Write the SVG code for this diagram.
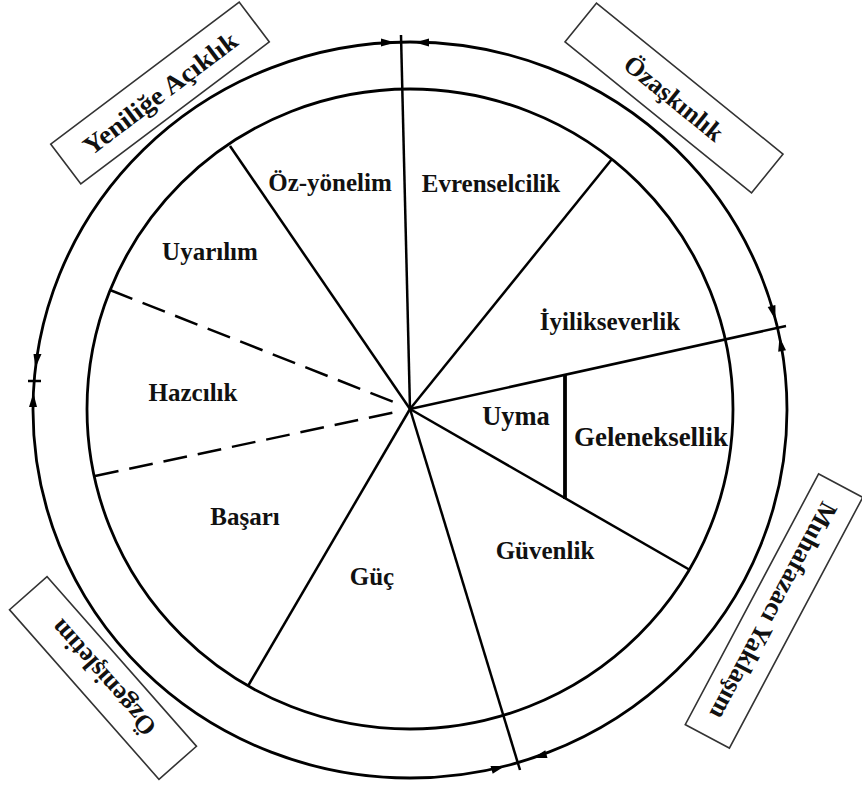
<svg xmlns="http://www.w3.org/2000/svg" width="862" height="787" viewBox="0 0 862 787">
<style>
.ring{fill:none;stroke:#000;stroke-width:2.8}
.spoke{stroke:#000;stroke-width:2.5;fill:none}
.dash{stroke-dasharray:24 11}
.lbl{font-family:"Liberation Serif","Times New Roman",serif;font-weight:bold;font-size:25px;fill:#111;text-anchor:middle}
.big{font-size:26.5px}
.blbl{font-family:"Liberation Serif","Times New Roman",serif;font-weight:bold;font-size:26px;fill:#111;text-anchor:middle}
.box{fill:#fff;stroke:#333;stroke-width:1.6}
.arr{fill:#000;stroke:none}
</style>
<rect width="862" height="787" fill="#fff"/>
<g id="rings">
<ellipse class="ring" cx="410" cy="410" rx="377" ry="368"/>
<ellipse class="ring" cx="410" cy="409" rx="323" ry="320"/>
</g>
<g id="connectors">
<line class="spoke" x1="410" y1="409" x2="401" y2="35"/>
<line class="spoke" x1="410" y1="409" x2="230" y2="146"/>
<line class="spoke dash" x1="110" y1="290" x2="396" y2="403"/>
<line class="spoke dash" x1="95" y1="476" x2="396" y2="412"/>
<line class="spoke" x1="410" y1="409" x2="248" y2="686"/>
<line class="spoke" x1="410" y1="409" x2="520" y2="770"/>
<line class="spoke" x1="410" y1="409" x2="690" y2="570"/>
<line class="spoke" x1="410" y1="409" x2="786" y2="326"/>
<line class="spoke" x1="410" y1="409" x2="612" y2="159"/>
<line class="spoke" x1="565" y1="375" x2="565" y2="499" style="stroke-width:3.8"/>
<line class="spoke" x1="28" y1="381" x2="41" y2="381"/>
<polygon class="arr" points="395,42.5 381,38.5 381,46.5"/>
<polygon class="arr" points="415,42.5 429,38.5 429,46.5"/>
<polygon class="arr" points="505,766 492.7,773.7 490.5,766.1"/>
<polygon class="arr" points="533,758 547.5,757.9 545.3,750.3"/>
<polygon class="arr" points="35.4,368 33.5,354 41.5,354"/>
<polygon class="arr" points="33.4,393 29,407 37,407"/>
<polygon class="arr" points="775.5,320 775.4,305 767.7,307.1"/>
<polygon class="arr" points="779.5,337 786,350.3 778.2,351.7"/>
</g>
<g id="oz-yonelim"><text class="lbl" x="330" y="191">Öz-yönelim</text></g>
<g id="evrenselcilik"><text class="lbl" x="491" y="192">Evrenselcilik</text></g>
<g id="uyarilim"><text class="lbl" x="210" y="260">Uyarılım</text></g>
<g id="iyilikseverlik"><text class="lbl" x="610" y="330">İyilikseverlik</text></g>
<g id="hazcilik"><text class="lbl" x="193" y="401">Hazcılık</text></g>
<g id="uyma"><text class="lbl big" x="516" y="425">Uyma</text></g>
<g id="geleneksellik"><text class="lbl big" x="651" y="446" textLength="154" lengthAdjust="spacingAndGlyphs">Geleneksellik</text></g>
<g id="basari"><text class="lbl" x="245" y="525">Başarı</text></g>
<g id="guvenlik"><text class="lbl" x="545" y="559">Güvenlik</text></g>
<g id="guc"><text class="lbl" x="372" y="585">Güç</text></g>
<g id="yenilige-aciklik" transform="translate(160,93) rotate(-37)">
<rect class="box" x="-118" y="-25" width="236" height="50"/>
<text class="blbl" x="0" y="9" textLength="186" lengthAdjust="spacingAndGlyphs">Yeniliğe Açıklık</text>
</g>
<g id="ozaskinlik" transform="translate(674,98) rotate(39)">
<rect class="box" x="-120" y="-25" width="240" height="50"/>
<text class="blbl" x="0" y="9">Özaşkınlık</text>
</g>
<g id="muhafazaci-yaklasim" transform="translate(774,611) rotate(118)">
<rect class="box" x="-142" y="-25" width="284" height="50"/>
<text class="blbl" x="0" y="9" textLength="242" lengthAdjust="spacingAndGlyphs">Muhafazacı Yaklaşım</text>
</g>
<g id="ozgenisletim" transform="translate(103,678) rotate(228.6)">
<rect class="box" x="-113" y="-25" width="226" height="50"/>
<text class="blbl" x="0" y="9" textLength="145" lengthAdjust="spacingAndGlyphs">Özgenişletim</text>
</g>
</svg>
